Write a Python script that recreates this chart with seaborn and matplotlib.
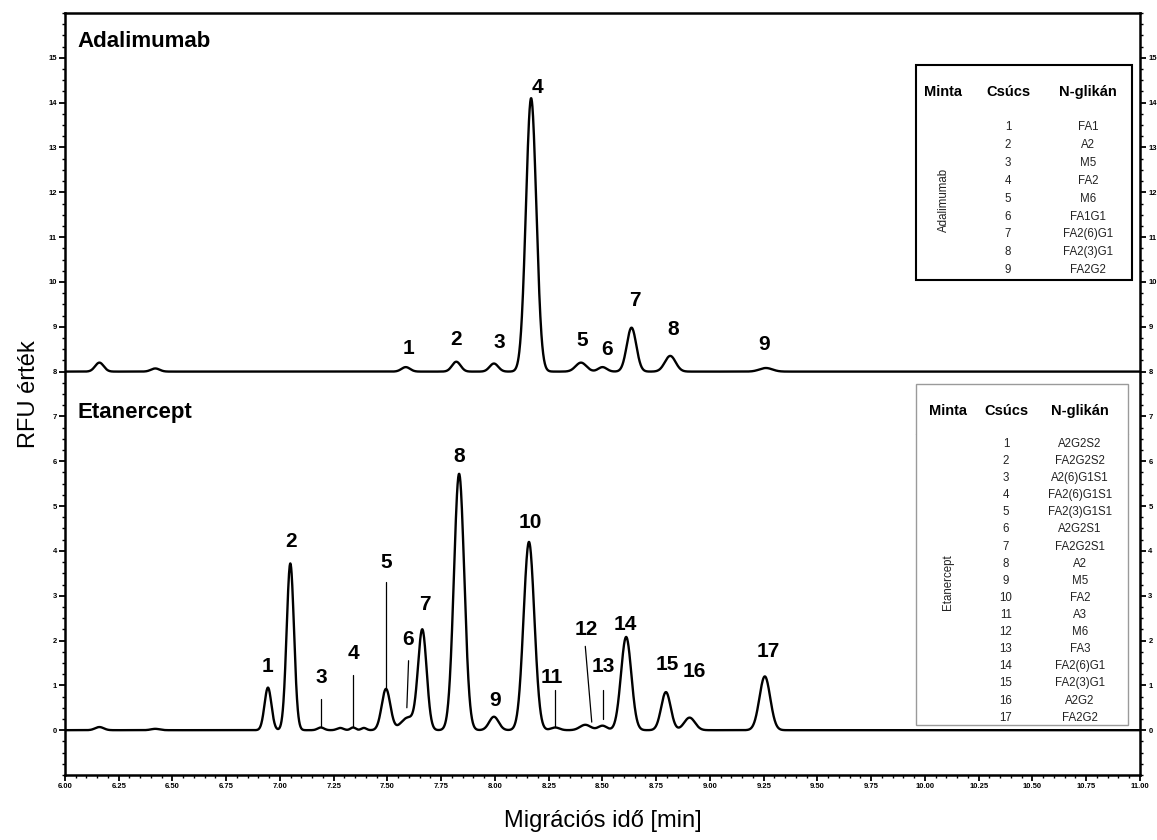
import numpy as np
import matplotlib
matplotlib.use("Agg")
import matplotlib.pyplot as plt
from matplotlib.lines import Line2D
from matplotlib.patches import Rectangle
import seaborn as sns

# ---------------------------------------------------------------- data
# Migration time axis [min]
time_min = np.linspace(6.0, 11.0, 5001)

# Adalimumab electropherogram (plotted with an offset of 8 RFU)
ada_offset = 8.0
ada_peak_no = ["", "", "1", "2", "3", "4", "5", "6", "7", "8", "9"]
ada_peak_time = [6.16, 6.42, 7.585, 7.82, 7.995, 8.168, 8.40, 8.50, 8.635, 8.815, 9.26]
ada_peak_height = [0.20, 0.07, 0.10, 0.22, 0.18, 6.10, 0.20, 0.10, 0.98, 0.35, 0.08]
ada_peak_width = [0.020, 0.020, 0.020, 0.020, 0.020, 0.024, 0.025, 0.020, 0.022, 0.025, 0.030]

# Etanercept electropherogram
eta_peak_no = ["", "", "1", "2", "3", "", "4", "", "5", "6", "7", "8", "9",
               "10", "11", "12", "13", "14", "15", "16", "17"]
eta_peak_time = [6.16, 6.42, 6.944, 7.048, 7.19, 7.28, 7.34, 7.39, 7.493, 7.595,
                 7.662, 7.833, 7.995, 8.158, 8.28, 8.42, 8.50, 8.61, 8.795, 8.905, 9.255]
eta_peak_height = [0.07, 0.03, 0.95, 3.72, 0.06, 0.05, 0.06, 0.05, 0.92, 0.28,
                   2.22, 5.72, 0.30, 4.20, 0.06, 0.12, 0.10, 2.08, 0.85, 0.28, 1.20]
eta_peak_width = [0.020, 0.020, 0.016, 0.017, 0.015, 0.015, 0.012, 0.012, 0.020, 0.032,
                  0.020, 0.024, 0.022, 0.025, 0.020, 0.025, 0.020, 0.024, 0.022, 0.025, 0.025]

# Glycan assignment tables
ada_glycans = ["FA1", "A2", "M5", "FA2", "M6", "FA1G1", "FA2(6)G1", "FA2(3)G1", "FA2G2"]
eta_glycans = ["A2G2S2", "FA2G2S2", "A2(6)G1S1", "FA2(6)G1S1", "FA2(3)G1S1", "A2G2S1",
               "FA2G2S1", "A2", "M5", "FA2", "A3", "M6", "FA3", "FA2(6)G1", "FA2(3)G1",
               "A2G2", "FA2G2"]
table_header = ["Minta", "Csúcs", "N-glikán"]

x_ticks = np.arange(6.0, 11.0001, 0.25)
y_ticks = np.arange(0, 16, 1)

# --------------------------------------------------------- label layout
# (peak number, label x, label y)
ada_labels = [("1", 7.598, 8.51), ("2", 7.818, 8.71), ("3", 8.019, 8.64),
              ("4", 8.196, 14.34), ("5", 8.406, 8.69), ("6", 8.519, 8.49),
              ("7", 8.650, 9.58), ("8", 8.827, 8.93), ("9", 9.252, 8.60)]
eta_labels = [("1", 6.944, 1.42), ("2", 7.050, 4.20), ("3", 7.190, 1.18),
              ("4", 7.340, 1.70), ("5", 7.493, 3.73), ("6", 7.595, 2.02),
              ("7", 7.672, 2.80), ("8", 7.835, 6.10), ("9", 8.000, 0.67),
              ("10", 8.166, 4.63), ("11", 8.265, 1.18), ("12", 8.425, 2.25),
              ("13", 8.505, 1.42), ("14", 8.605, 2.36), ("15", 8.800, 1.47),
              ("16", 8.925, 1.31), ("17", 9.270, 1.76)]
# leader lines: (x_top, y_top, x_bottom, y_bottom)
eta_leaders = [(7.192, 0.70, 7.192, 0.07), (7.338, 1.22, 7.338, 0.08),
               (7.495, 3.30, 7.495, 0.95), (7.598, 1.55, 7.590, 0.50),
               (8.279, 0.90, 8.279, 0.07), (8.420, 1.87, 8.450, 0.18),
               (8.502, 0.90, 8.502, 0.25)]


def trace(times, heights, widths, offset=0.0):
    y = np.full_like(time_min, offset)
    for t0, h, w in zip(times, heights, widths):
        y += h * np.exp(-0.5 * ((time_min - t0) / w) ** 2)
    return y


ada_signal = trace(ada_peak_time, ada_peak_height, ada_peak_width, ada_offset)
eta_signal = trace(eta_peak_time, eta_peak_height, eta_peak_width)

# ---------------------------------------------------------------- figure
sns.set_theme(style="white")
plt.rcParams["font.family"] = ["Liberation Sans", "DejaVu Sans"]
plt.rcParams["text.color"] = "black"
plt.rcParams["axes.labelcolor"] = "black"
plt.rcParams["xtick.color"] = "black"
plt.rcParams["ytick.color"] = "black"

W, H = 1157, 840
fig = plt.figure(figsize=(W / 100, H / 100), dpi=100)
ax = fig.add_axes([65 / W, 1 - 775 / H, (1140 - 65) / W, (775 - 13) / H])

sns.lineplot(x=time_min, y=ada_signal, ax=ax, color="black", lw=1.7,
             estimator=None, sort=False)
sns.lineplot(x=time_min, y=eta_signal, ax=ax, color="black", lw=1.7,
             estimator=None, sort=False)

ax.set_xlim(6.0, 11.0)
ax.set_ylim(-1.0, 16.0)
ax.set_xticks(x_ticks)
ax.set_xticklabels([f"{v:.2f}" for v in x_ticks])
ax.set_xticks(np.arange(6.0, 11.0001, 0.05), minor=True)
ax.set_yticks(y_ticks)
ax.set_yticklabels([str(v) for v in y_ticks])
ax.set_yticks(np.arange(-1.0, 16.0001, 0.25), minor=True)
ax.tick_params(axis="both", which="major", direction="out", length=4, width=1.3,
               labelsize=5.5, color="black", pad=2)
ax.tick_params(axis="both", which="minor", direction="out", length=2, width=1.0,
               color="black")
ax.tick_params(axis="y", which="both", left=True, right=True, labelright=True)
ax.tick_params(axis="x", which="both", bottom=True, top=False)
for lab in ax.get_xticklabels() + ax.get_yticklabels():
    lab.set_fontweight("bold")
for side in ax.spines.values():
    side.set_linewidth(1.8)
    side.set_color("black")

ax.set_xlabel("Migrációs idő [min]", fontsize=17, labelpad=14)
ax.set_ylabel("RFU érték", fontsize=17, labelpad=6)

# sample titles
ax.text(0.012, 0.963, "Adalimumab", transform=ax.transAxes, fontsize=16,
        fontweight="bold", ha="left", va="center")
ax.text(0.012, 0.476, "Etanercept", transform=ax.transAxes, fontsize=16,
        fontweight="bold", ha="left", va="center")

# peak numbers
for txt, x, y in ada_labels + eta_labels:
    ax.text(x, y, txt, fontsize=15, fontweight="bold", ha="center", va="center")
for x0, y0, x1, y1 in eta_leaders:
    ax.plot([x0, x1], [y0, y1], color="black", lw=0.9)


# ---------------------------------------------------------------- tables
def fx(px):
    return px / W


def fy(py):
    return 1 - py / H


def hline(x0, x1, y, color, lw):
    fig.add_artist(Line2D([fx(x0), fx(x1)], [fy(y), fy(y)], color=color, lw=lw,
                          transform=fig.transFigure))


def draw_table(box, header_y, divider_y, col_x, row_y0, row_dy, sample, sample_xy,
               glycans, edge, lw):
    x0, y0, x1, y1 = box
    fig.add_artist(Rectangle((fx(x0), fy(y1)), fx(x1) - fx(x0), fy(y0) - fy(y1),
                             transform=fig.transFigure, facecolor="white",
                             edgecolor=edge, lw=lw, zorder=3))
    hline(x0, x1, divider_y, edge, lw)
    for cx, head in zip(col_x, table_header):
        fig.text(fx(cx), fy(header_y), head, fontsize=10.5, fontweight="bold",
                 ha="center", va="center", zorder=4)
    for i, g in enumerate(glycans):
        ry = row_y0 + i * row_dy
        fig.text(fx(col_x[1]), fy(ry), str(i + 1), fontsize=8.3, ha="center",
                 va="center", zorder=4, color="#222222")
        fig.text(fx(col_x[2]), fy(ry), g, fontsize=8.3, ha="center", va="center",
                 zorder=4, color="#222222")
    fig.text(fx(sample_xy[0]), fy(sample_xy[1]), sample, fontsize=8.3, rotation=90,
             ha="center", va="center", zorder=4, color="#222222")


draw_table((916, 65, 1132, 280), 92, 117, (943, 1008, 1088), 127, 17.9,
           "Adalimumab", (944, 200), ada_glycans, "black", 1.5)
draw_table((916, 384, 1128, 725), 411, 434, (948, 1006, 1080), 444, 17.1,
           "Etanercept", (948, 582), eta_glycans, "#9a9a9a", 1.0)

fig.savefig("out.png", dpi=100, facecolor="white")
